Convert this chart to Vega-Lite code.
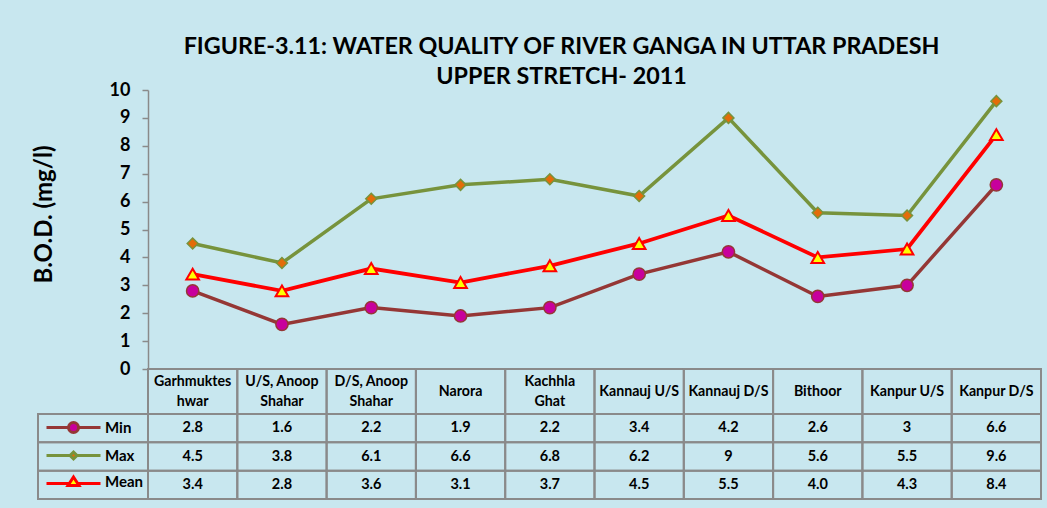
{
  "$schema": "https://vega.github.io/schema/vega-lite/v6.json",
  "width": 893,
  "height": 409,
  "autosize": {"type": "none"},
  "padding": {"left": 148, "top": 90, "right": 6, "bottom": 9},
  "background": "#c8e7ef",
  "config": {"view": {"stroke": null}, "font": "Lato"},
  "title": {
    "text": ["FIGURE-3.11: WATER QUALITY OF RIVER GANGA IN UTTAR PRADESH", "UPPER STRETCH- 2011"],
    "font": "Lato", "fontSize": 23.3, "fontWeight": "bold", "color": "black",
    "anchor": "middle", "frame": "group", "dx": -33, "dy": 35, "offset": 4, "lineHeight": 30, "baseline": "bottom"
  },
  "datasets": {
    "sites": [
      {"site": "Garhmukteshwar", "label": "Garhmuktes\nhwar"},
      {"site": "U/S, Anoop Shahar", "label": "U/S,  Anoop\nShahar"},
      {"site": "D/S, Anoop Shahar", "label": "D/S, Anoop\nShahar"},
      {"site": "Narora", "label": "Narora"},
      {"site": "Kachhla Ghat", "label": "Kachhla\nGhat"},
      {"site": "Kannauj U/S", "label": "Kannauj U/S"},
      {"site": "Kannauj D/S", "label": "Kannauj D/S"},
      {"site": "Bithoor", "label": "Bithoor"},
      {"site": "Kanpur U/S", "label": "Kanpur U/S"},
      {"site": "Kanpur D/S", "label": "Kanpur D/S"}
    ],
    "bod": [
      {"site": "Garhmukteshwar", "series": "Min", "value": 2.8, "shown": "2.8"},
      {"site": "U/S, Anoop Shahar", "series": "Min", "value": 1.6, "shown": "1.6"},
      {"site": "D/S, Anoop Shahar", "series": "Min", "value": 2.2, "shown": "2.2"},
      {"site": "Narora", "series": "Min", "value": 1.9, "shown": "1.9"},
      {"site": "Kachhla Ghat", "series": "Min", "value": 2.2, "shown": "2.2"},
      {"site": "Kannauj U/S", "series": "Min", "value": 3.4, "shown": "3.4"},
      {"site": "Kannauj D/S", "series": "Min", "value": 4.2, "shown": "4.2"},
      {"site": "Bithoor", "series": "Min", "value": 2.6, "shown": "2.6"},
      {"site": "Kanpur U/S", "series": "Min", "value": 3, "shown": "3"},
      {"site": "Kanpur D/S", "series": "Min", "value": 6.6, "shown": "6.6"},
      {"site": "Garhmukteshwar", "series": "Max", "value": 4.5, "shown": "4.5"},
      {"site": "U/S, Anoop Shahar", "series": "Max", "value": 3.8, "shown": "3.8"},
      {"site": "D/S, Anoop Shahar", "series": "Max", "value": 6.1, "shown": "6.1"},
      {"site": "Narora", "series": "Max", "value": 6.6, "shown": "6.6"},
      {"site": "Kachhla Ghat", "series": "Max", "value": 6.8, "shown": "6.8"},
      {"site": "Kannauj U/S", "series": "Max", "value": 6.2, "shown": "6.2"},
      {"site": "Kannauj D/S", "series": "Max", "value": 9, "shown": "9"},
      {"site": "Bithoor", "series": "Max", "value": 5.6, "shown": "5.6"},
      {"site": "Kanpur U/S", "series": "Max", "value": 5.5, "shown": "5.5"},
      {"site": "Kanpur D/S", "series": "Max", "value": 9.6, "shown": "9.6"},
      {"site": "Garhmukteshwar", "series": "Mean", "value": 3.4, "shown": "3.4"},
      {"site": "U/S, Anoop Shahar", "series": "Mean", "value": 2.8, "shown": "2.8"},
      {"site": "D/S, Anoop Shahar", "series": "Mean", "value": 3.6, "shown": "3.6"},
      {"site": "Narora", "series": "Mean", "value": 3.1, "shown": "3.1"},
      {"site": "Kachhla Ghat", "series": "Mean", "value": 3.7, "shown": "3.7"},
      {"site": "Kannauj U/S", "series": "Mean", "value": 4.5, "shown": "4.5"},
      {"site": "Kannauj D/S", "series": "Mean", "value": 5.5, "shown": "5.5"},
      {"site": "Bithoor", "series": "Mean", "value": 4.0, "shown": "4.0"},
      {"site": "Kanpur U/S", "series": "Mean", "value": 4.3, "shown": "4.3"},
      {"site": "Kanpur D/S", "series": "Mean", "value": 8.4, "shown": "8.4"}
    ]
  },
  "layer": [
    {
      "data": {"name": "sites"},
      "mark": {"type": "rect", "fill": "white", "fillOpacity": 0, "stroke": "#8a8a8a", "strokeWidth": 2},
      "encoding": {
        "x": {"field": "site", "type": "nominal", "axis": null,
          "scale": {"type": "band", "domain": ["Garhmukteshwar", "U/S, Anoop Shahar", "D/S, Anoop Shahar", "Narora", "Kachhla Ghat", "Kannauj U/S", "Kannauj D/S", "Bithoor", "Kanpur U/S", "Kanpur D/S"], "range": [0, 893], "paddingInner": 0, "paddingOuter": 0}},
        "y": {"datum": "header", "type": "nominal", "axis": null,
          "scale": {"type": "band", "domain": ["header"], "range": [279, 324], "paddingInner": 0, "paddingOuter": 0}}
      }
    },
    {
      "data": {"name": "bod"},
      "mark": {"type": "rect", "fill": "white", "fillOpacity": 0, "stroke": "#8a8a8a", "strokeWidth": 2},
      "encoding": {
        "x": {"field": "site", "type": "nominal", "axis": null,
          "scale": {"type": "band", "domain": ["Garhmukteshwar", "U/S, Anoop Shahar", "D/S, Anoop Shahar", "Narora", "Kachhla Ghat", "Kannauj U/S", "Kannauj D/S", "Bithoor", "Kanpur U/S", "Kanpur D/S"], "range": [0, 893], "paddingInner": 0, "paddingOuter": 0}},
        "y": {"field": "series", "type": "nominal", "axis": null,
          "scale": {"type": "band", "domain": ["Min", "Max", "Mean"], "range": [324, 409], "paddingInner": 0, "paddingOuter": 0}}
      }
    },
    {
      "data": {"name": "bod"},
      "transform": [{"filter": "datum.site === 'Garhmukteshwar'"}],
      "mark": {"type": "rect", "fill": "white", "fillOpacity": 0, "stroke": "#8a8a8a", "strokeWidth": 2},
      "encoding": {
        "x": {"datum": "legend", "type": "nominal", "axis": null,
          "scale": {"type": "band", "domain": ["legend"], "range": [-110, 0], "paddingInner": 0, "paddingOuter": 0}},
        "y": {"field": "series", "type": "nominal", "axis": null,
          "scale": {"type": "band", "domain": ["Min", "Max", "Mean"], "range": [324, 409], "paddingInner": 0, "paddingOuter": 0}}
      }
    },
    {
      "data": {"name": "sites"},
      "transform": [{"filter": "indexof(datum.label, '\\n') < 0"}],
      "mark": {"type": "text", "font": "Lato", "fontSize": 14.2, "fontWeight": "bold", "color": "black", "align": "center", "baseline": "middle"},
      "encoding": {
        "text": {"field": "label"},
        "x": {"field": "site", "type": "nominal", "axis": null, "bandPosition": 0.5,
          "scale": {"type": "band", "domain": ["Garhmukteshwar", "U/S, Anoop Shahar", "D/S, Anoop Shahar", "Narora", "Kachhla Ghat", "Kannauj U/S", "Kannauj D/S", "Bithoor", "Kanpur U/S", "Kanpur D/S"], "range": [0, 893], "paddingInner": 0, "paddingOuter": 0}},
        "y": {"datum": "header", "type": "nominal", "axis": null, "bandPosition": 0.5,
          "scale": {"type": "band", "domain": ["header"], "range": [279, 324], "paddingInner": 0, "paddingOuter": 0}}
      }
    },
    {
      "data": {"name": "sites"},
      "transform": [{"filter": "indexof(datum.label, '\\n') >= 0"}],
      "mark": {"type": "text", "font": "Lato", "fontSize": 14.2, "fontWeight": "bold", "color": "black", "align": "center", "baseline": "middle", "lineBreak": "\n", "lineHeight": 19.5, "dy": -9.5},
      "encoding": {
        "text": {"field": "label"},
        "x": {"field": "site", "type": "nominal", "axis": null, "bandPosition": 0.5,
          "scale": {"type": "band", "domain": ["Garhmukteshwar", "U/S, Anoop Shahar", "D/S, Anoop Shahar", "Narora", "Kachhla Ghat", "Kannauj U/S", "Kannauj D/S", "Bithoor", "Kanpur U/S", "Kanpur D/S"], "range": [0, 893], "paddingInner": 0, "paddingOuter": 0}},
        "y": {"datum": "header", "type": "nominal", "axis": null, "bandPosition": 0.5,
          "scale": {"type": "band", "domain": ["header"], "range": [279, 324], "paddingInner": 0, "paddingOuter": 0}}
      }
    },
    {
      "data": {"name": "bod"},
      "mark": {"type": "text", "font": "Lato", "fontSize": 14.5, "fontWeight": "bold", "color": "black", "align": "center", "baseline": "middle"},
      "encoding": {
        "text": {"field": "shown"},
        "x": {"field": "site", "type": "nominal", "axis": null, "bandPosition": 0.5,
          "scale": {"type": "band", "domain": ["Garhmukteshwar", "U/S, Anoop Shahar", "D/S, Anoop Shahar", "Narora", "Kachhla Ghat", "Kannauj U/S", "Kannauj D/S", "Bithoor", "Kanpur U/S", "Kanpur D/S"], "range": [0, 893], "paddingInner": 0, "paddingOuter": 0}},
        "y": {"field": "series", "type": "nominal", "axis": null, "bandPosition": 0.5,
          "scale": {"type": "band", "domain": ["Min", "Max", "Mean"], "range": [324, 409], "paddingInner": 0, "paddingOuter": 0}}
      }
    },
    {
      "data": {"name": "bod"},
      "transform": [{"filter": "datum.series === 'Min'"}],
      "mark": {"type": "line", "stroke": "#953735", "strokeWidth": 3.5,
        "point": {"shape": "circle", "filled": true, "fill": "#c8009c", "stroke": "#953735", "strokeWidth": 1.5, "size": 150}},
      "encoding": {
        "x": {"field": "site", "type": "nominal", "axis": null,
          "scale": {"type": "point", "domain": ["Garhmukteshwar", "U/S, Anoop Shahar", "D/S, Anoop Shahar", "Narora", "Kachhla Ghat", "Kannauj U/S", "Kannauj D/S", "Bithoor", "Kanpur U/S", "Kanpur D/S"], "range": [0, 893], "padding": 0.5}},
        "y": {"field": "value", "type": "quantitative",
          "scale": {"domain": [0, 10], "range": [279, 0]},
          "axis": {"values": [0, 1, 2, 3, 4, 5, 6, 7, 8, 9, 10], "grid": false,
            "domainColor": "#8a8a8a", "domainWidth": 1.5, "tickColor": "#8a8a8a", "tickWidth": 1.5, "tickSize": 6,
            "labelFont": "Lato", "labelFontSize": 18, "labelFontWeight": "bold", "labelColor": "black", "labelPadding": 12, "labelFlush": false,
            "title": "B.O.D. (mg/l)", "titleFont": "Lato", "titleFontSize": 24, "titleFontWeight": "bold", "titleColor": "black",
            "titleX": -104, "titleY": 124, "titleAngle": -90, "titleAlign": "center", "titleBaseline": "middle"}}
      }
    },
    {
      "data": {"name": "bod"},
      "transform": [{"filter": "datum.series === 'Max'"}],
      "mark": {"type": "line", "stroke": "#77933c", "strokeWidth": 3.5,
        "point": {"shape": "diamond", "filled": true, "fill": "#e36c09", "stroke": "#77933c", "strokeWidth": 1.5, "size": 120}},
      "encoding": {
        "x": {"field": "site", "type": "nominal", "axis": null,
          "scale": {"type": "point", "domain": ["Garhmukteshwar", "U/S, Anoop Shahar", "D/S, Anoop Shahar", "Narora", "Kachhla Ghat", "Kannauj U/S", "Kannauj D/S", "Bithoor", "Kanpur U/S", "Kanpur D/S"], "range": [0, 893], "padding": 0.5}},
        "y": {"field": "value", "type": "quantitative", "axis": null,
          "scale": {"domain": [0, 10], "range": [279, 0]}}
      }
    },
    {
      "data": {"name": "bod"},
      "transform": [{"filter": "datum.series === 'Mean'"}],
      "mark": {"type": "line", "stroke": "#ff0000", "strokeWidth": 3.8,
        "point": {"shape": "triangle-up", "filled": true, "fill": "#ffff00", "stroke": "#ff0000", "strokeWidth": 2, "size": 160}},
      "encoding": {
        "x": {"field": "site", "type": "nominal", "axis": null,
          "scale": {"type": "point", "domain": ["Garhmukteshwar", "U/S, Anoop Shahar", "D/S, Anoop Shahar", "Narora", "Kachhla Ghat", "Kannauj U/S", "Kannauj D/S", "Bithoor", "Kanpur U/S", "Kanpur D/S"], "range": [0, 893], "padding": 0.5}},
        "y": {"field": "value", "type": "quantitative", "axis": null,
          "scale": {"domain": [0, 10], "range": [279, 0]}}
      }
    },
    {
      "data": {"name": "bod"},
      "transform": [{"filter": "datum.series === 'none'"}],
      "mark": {"type": "point", "filled": true, "opacity": 1, "strokeWidth": 3, "size": 400},
      "encoding": {
        "fill": {"field": "series", "type": "nominal",
          "scale": {"domain": ["Min", "Max", "Mean"], "range": ["#c8009c", "#e36c09", "#ffff00"]},
          "legend": {"orient": "none", "legendX": -86, "legendY": 326, "title": null, "labelFont": "Lato", "labelFontSize": 15, "labelFontWeight": "bold", "labelColor": "black", "symbolSize": 400, "symbolStrokeWidth": 3, "rowPadding": 5, "labelOffset": 20, "padding": 0}},
        "stroke": {"field": "series", "type": "nominal",
          "scale": {"domain": ["Min", "Max", "Mean"], "range": ["#953735", "#77933c", "#ff0000"]},
          "legend": {"orient": "none", "legendX": -86, "legendY": 326, "title": null, "labelFont": "Lato", "labelFontSize": 15, "labelFontWeight": "bold", "labelColor": "black", "symbolSize": 400, "symbolStrokeWidth": 3, "rowPadding": 5, "labelOffset": 20, "padding": 0}},
        "shape": {"field": "series", "type": "nominal",
          "scale": {"domain": ["Min", "Max", "Mean"], "range": [
            "M-2.7,0H-0.5M0.5,0H2.7M0.5,0A0.5,0.5,0,1,1,-0.5,0A0.5,0.5,0,1,1,0.5,0Z",
            "M-2.7,0H-0.35M0.35,0H2.7M0,-0.35L0.35,0L0,0.35L-0.35,0Z",
            "M-2.7,0.2H-0.45M0.45,0.2H2.7M0,-0.45L0.55,0.4L-0.55,0.4Z"]},
          "legend": {"orient": "none", "legendX": -86, "legendY": 326, "title": null, "labelFont": "Lato", "labelFontSize": 15, "labelFontWeight": "bold", "labelColor": "black", "symbolSize": 400, "symbolStrokeWidth": 3, "rowPadding": 5, "labelOffset": 20, "padding": 0}}
      }
    }
  ],
  "resolve": {"scale": {"x": "independent", "y": "independent"}, "axis": {"x": "independent", "y": "independent"}}
}
